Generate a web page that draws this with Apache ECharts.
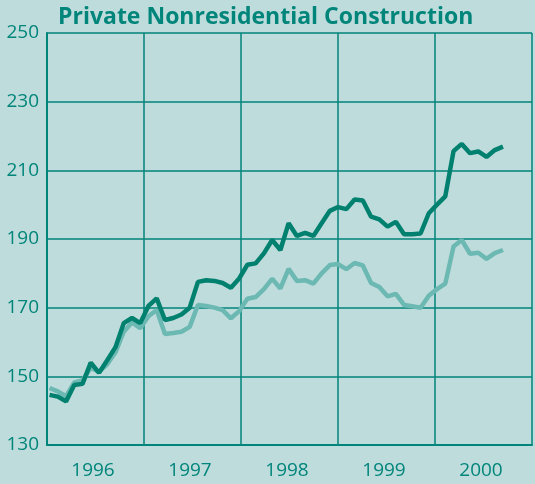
<!DOCTYPE html>
<html>
<head>
<meta charset="utf-8">
<script src="https://cdn.jsdelivr.net/npm/echarts@6/dist/echarts.min.js"></script>
<style>
  html, body { margin: 0; padding: 0; background: #bfdcdc; }
  #chart { width: 535px; height: 484px; }
</style>
</head>
<body>
<div id="chart"></div>
<script>
// monthly points, Jan 1996 .. Aug 2000
var firstPoint = 1996.026
var pointStep = 0.085

var darkLine = [144.6, 144.1, 142.7, 147.5, 147.8, 154, 151, 154.7, 158.5, 165.5, 167, 165.5,
                170.5, 172.7, 166.4, 167, 168, 170, 177.5, 178, 177.8, 177.2, 175.8, 178.5,
                182.5, 182.9, 185.8, 189.7, 186.8, 194.6, 190.9, 191.8, 190.9, 194.6, 198.2, 199.3,
                198.7, 201.5, 201.2, 196.5, 195.7, 193.6, 195, 191.4, 191.4, 191.6, 197.5, 200,
                202.4, 215.6, 217.7, 215, 215.5, 213.9, 215.9, 216.9]

var lightLine = [146.6, 145.6, 144.2, 148.2, 148.8, 152.5, 151.3, 153.5, 157, 163, 165.7, 164,
                 167.5, 169.3, 162.3, 162.6, 163, 164.4, 170.8, 170.5, 170, 169.3, 166.9, 169,
                 172.6, 173.1, 175.4, 178.4, 175.6, 181.3, 177.8, 178, 177, 180, 182.4, 182.7,
                 181.2, 183, 182.3, 177.2, 176, 173.3, 174, 170.8, 170.4, 170, 173.5, 175.4,
                 177, 187.8, 189.7, 185.7, 186, 184.2, 185.9, 186.8]

var yTicks = { min: 130, max: 250, step: 20 }
var years = [1996, 1997, 1998, 1999, 2000]

var teal = '#00857a'

function toPoints(arr){
    return arr.map(function(v, i){ return [firstPoint + i * pointStep, v] })
}

var chart = echarts.init(document.getElementById('chart'))
chart.setOption({
    backgroundColor: '#bfdcdc',
    animation: false,
    title: {
        text: 'Private Nonresidential Construction',
        left: 53,
        top: 1,
        textStyle: {
            color: teal,
            fontFamily: 'Open Sans',
            fontWeight: 'bold',
            fontSize: 23
        }
    },
    grid: { left: 47, right: 0, top: 33, bottom: 39 },
    xAxis: [
        {
            type: 'value',
            min: years[0],
            max: years[years.length - 1] + 1,
            interval: 1,
            position: 'bottom',
            axisLine: { show: true, lineStyle: { color: teal, width: 2 } },
            axisTick: { show: false },
            axisLabel: { show: false },
            splitLine: { show: true, lineStyle: { color: teal, width: 1.5 } }
        },
        {
            // year labels in the middle of each year
            type: 'value',
            min: years[0],
            max: years[years.length - 1] + 1,
            interval: 0.5,
            position: 'bottom',
            offset: 0,
            axisLine: { show: false },
            axisTick: { show: false },
            splitLine: { show: false },
            axisLabel: {
                color: teal,
                fontFamily: 'Open Sans',
                fontSize: 19,
                margin: 16,
                padding: [0, 5, 0, 0],
                formatter: function(v){
                    return (v % 1 === 0.5) ? String(Math.floor(v)) : ''
                }
            }
        }
    ],
    yAxis: {
        type: 'value',
        min: yTicks.min,
        max: yTicks.max,
        interval: yTicks.step,
        axisLine: { show: true, lineStyle: { color: teal, width: 2 } },
        axisTick: { show: false },
        axisLabel: {
            color: teal,
            fontFamily: 'Open Sans',
            fontSize: 19,
            margin: 8
        },
        splitLine: { show: true, lineStyle: { color: teal, width: 1.5 } }
    },
    series: [
        {
            type: 'line',
            xAxisIndex: 0,
            data: toPoints(lightLine),
            showSymbol: false,
            lineStyle: { color: '#6cb8b2', width: 4.5 }
        },
        {
            type: 'line',
            xAxisIndex: 0,
            data: toPoints(darkLine),
            showSymbol: false,
            lineStyle: { color: '#00806f', width: 4.5 }
        }
    ]
})
</script>
</body>
</html>
